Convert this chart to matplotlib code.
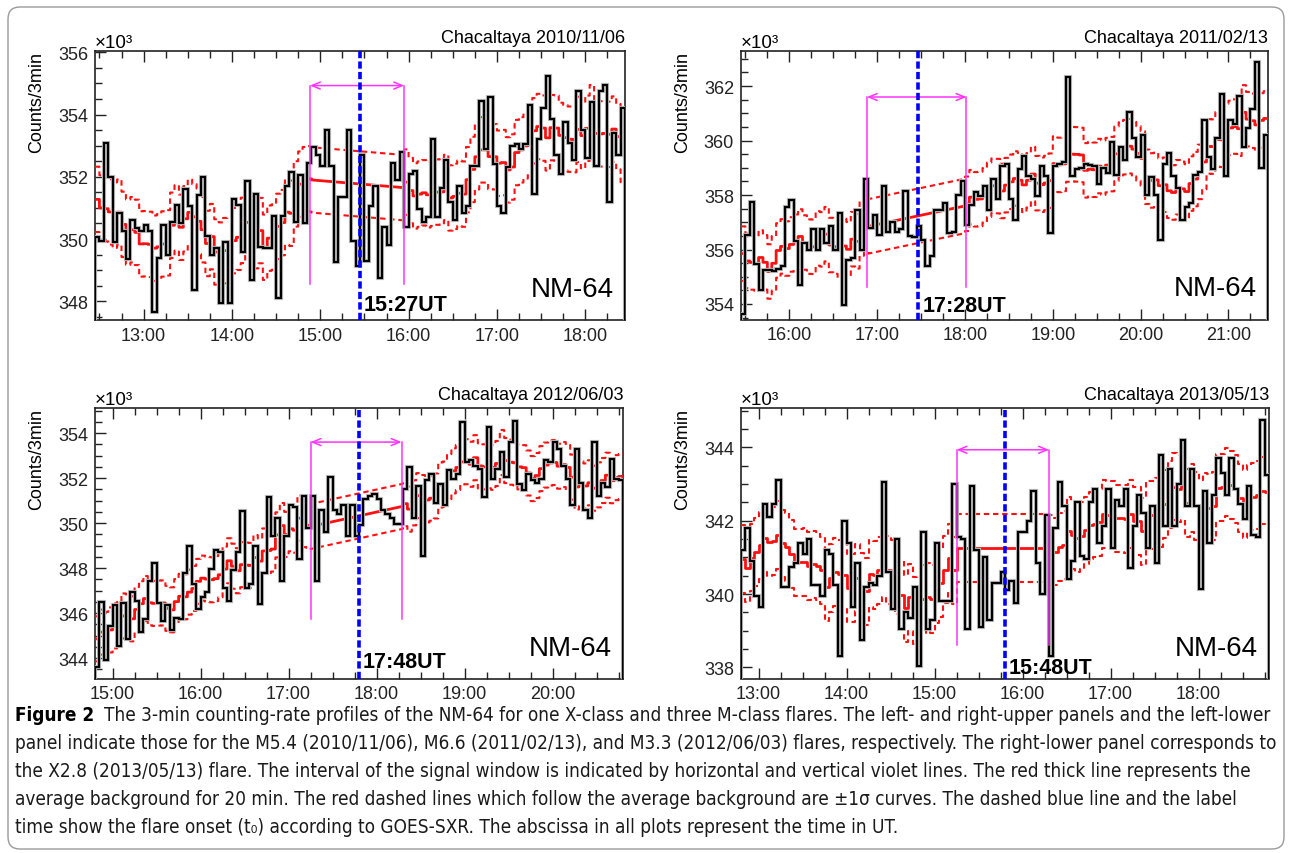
import numpy as np
import pandas as pd
import matplotlib
matplotlib.use("Agg")
import matplotlib.pyplot as plt
import matplotlib.patheffects as pe
from matplotlib import font_manager as fm
from matplotlib.patches import FancyBboxPatch
from matplotlib.transforms import IdentityTransform
from matplotlib.ticker import MultipleLocator, FuncFormatter

# ---- data (counts per 3 min, in units of 10^3) ----
DATES = ["2010/11/06", "2011/02/13", "2012/06/03", "2013/05/13"]
STARTS = ["12:27", "15:27", "14:48", "12:48"]
ONSETS = ["15:27", "17:28", "17:48", "15:48"]
WIN_START = ["14:53", "16:53", "17:15", "15:15"]
WIN_END = ["15:57", "18:01", "18:17", "16:18"]
WIN_BG = [(351.9, 351.65), (356.85, 357.6), (349.85, 350.75), (341.25, 341.25)]
SIGMA = [1.05, 1.0, 1.0, 0.92]
ARROW_Y = [354.93, 361.6, 353.6, 343.93]
WIN_LOW = [348.56, 354.64, 345.75, 338.6]

COUNTS_2010 = [
    350.05, 349.95, 353.1, 352.0, 349.9, 350.85, 350.25, 349.35, 350.6, 350.35,
    350.25, 350.45, 350.25, 347.65, 349.4, 350.45, 349.5, 350.55, 351.1, 350.5,
    351.6, 351.05, 348.35, 351.4, 352.0, 350.1, 349.5, 349.7, 347.95, 349.9,
    347.95, 351.3, 351.1, 349.6, 351.85, 348.7, 351.45, 349.75, 349.7, 349.7,
    350.75, 348.1, 350.75, 351.7, 352.15, 350.55, 352.05, 350.5, 352.45, 352.95,
    352.7, 352.35, 353.5, 352.35, 349.25, 351.35, 351.35, 353.5, 349.95, 349.15,
    352.7, 349.3, 351.05, 351.7, 348.75, 350.4, 349.8, 352.45, 351.9, 352.8,
    350.4, 352.1, 352.2, 350.95, 350.55, 350.7, 353.2, 350.7, 351.65, 352.55,
    351.2, 350.6, 351.7, 350.85, 351.05, 352.35, 352.35, 354.45, 352.9, 354.55,
    352.4, 351.05, 350.85, 352.3, 353.0, 353.05, 352.9, 353.05, 354.3, 351.45,
    353.2, 354.2, 355.25, 353.85, 352.7, 352.1, 353.75, 353.1, 352.55, 354.75,
    353.5, 352.6, 354.4, 352.35, 354.75, 354.95, 351.2, 353.4, 352.7, 354.2,
]
COUNTS_2011 = [
    353.65, 356.55, 357.75, 355.45, 354.5, 355.25, 355.25, 355.2, 355.3, 355.4,
    357.55, 357.8, 356.3, 354.7, 356.25, 356.0, 356.75, 356.0, 356.75, 356.25,
    356.85, 356.0, 357.35, 353.95, 355.6, 355.7, 357.45, 356.0, 358.6, 356.8,
    357.25, 356.55, 358.35, 356.65, 357.0, 356.65, 356.75, 358.15, 356.5, 356.45,
    356.85, 356.35, 355.4, 355.75, 357.45, 357.45, 357.7, 356.6, 356.65, 358.0,
    358.5, 356.9, 357.65, 358.1, 357.95, 358.35, 357.45, 358.6, 357.85, 359.05,
    359.15, 357.85, 357.1, 358.95, 359.45, 358.7, 358.6, 357.95, 359.05, 358.7,
    356.6, 359.05, 359.15, 359.2, 362.35, 358.7, 358.95, 359.0, 359.15, 359.1,
    359.05, 358.4, 359.0, 358.8, 359.95, 358.75, 359.75, 359.3, 361.05, 360.1,
    359.4, 360.2, 358.0, 358.65, 358.0, 356.35, 359.15, 359.55, 358.7, 358.25,
    357.1, 357.55, 357.7, 358.75, 358.85, 360.75, 359.4, 358.95, 360.1, 361.7,
    358.7, 360.75, 360.6, 361.65, 359.75, 360.45, 361.15, 362.9, 359.0, 360.2,
]
COUNTS_2012 = [
    343.6, 346.5, 343.9, 345.45, 346.35, 344.55, 346.45, 344.85, 346.95, 346.55,
    345.15, 345.75, 347.45, 348.25, 346.45, 345.65, 346.35, 345.25, 345.8, 345.75,
    347.8, 349.0, 347.3, 346.2, 346.7, 346.95, 347.95, 348.8, 348.7, 347.1,
    346.55, 347.9, 348.7, 350.55, 347.1, 347.3, 349.0, 346.4, 347.8, 351.15,
    349.45, 350.25, 347.45, 349.45, 350.8, 350.7, 348.4, 351.2, 349.8, 351.2,
    347.45, 350.6, 349.6, 352.05, 350.6, 350.4, 350.8, 349.45, 350.8, 349.45,
    349.9, 351.05, 351.2, 351.3, 351.05, 350.6, 350.4, 350.25, 349.95, 349.95,
    351.5, 352.5, 350.25, 351.65, 348.55, 351.9, 352.2, 350.9, 351.75, 350.8,
    352.35, 351.95, 352.2, 354.5, 352.7, 352.8, 352.55, 352.4, 351.15, 354.25,
    351.95, 352.4, 353.15, 352.05, 353.6, 354.55, 351.75, 351.45, 352.2, 351.9,
    351.8, 351.95, 352.8, 352.7, 353.6, 353.3, 352.55, 351.95, 350.8, 353.3,
    351.8, 350.6, 350.25, 353.6, 351.2, 351.8, 351.6, 352.85, 351.95, 351.9,
]
COUNTS_2013 = [
    341.2, 341.8, 340.9, 339.95, 339.65, 342.45, 342.1, 342.45, 343.1, 340.2,
    340.2, 340.75, 340.85, 341.4, 341.1, 341.5, 340.25, 340.25, 339.95, 341.2,
    341.1, 340.25, 338.3, 342.0, 341.4, 339.65, 340.85, 338.75, 340.2, 340.3,
    340.25, 340.5, 343.05, 340.6, 339.6, 341.5, 339.05, 339.5, 339.35, 340.2,
    338.05, 341.7, 339.05, 339.3, 341.4, 339.8, 339.8, 339.8, 343.0, 341.55,
    341.5, 339.05, 342.95, 341.2, 339.1, 341.0, 339.3, 340.3, 340.3, 340.6,
    340.1, 340.35, 339.75, 341.7, 341.7, 342.0, 342.8, 340.85, 340.0, 342.15,
    338.3, 341.8, 343.05, 342.4, 340.4, 340.9, 342.5, 341.05, 340.95, 342.5,
    342.85, 341.4, 341.85, 342.85, 341.25, 342.55, 342.4, 342.85, 340.7, 341.85,
    342.7, 342.2, 341.25, 342.4, 340.85, 343.8, 341.85, 343.4, 341.85, 343.0,
    344.2, 342.4, 343.4, 342.4, 340.15, 342.8, 341.4, 342.7, 343.7, 343.3,
    342.7, 343.7, 342.85, 342.45, 342.05, 342.95, 341.6, 341.55, 344.75, 343.25,
]
COUNTS = [COUNTS_2010, COUNTS_2011, COUNTS_2012, COUNTS_2013]

# ---- layout ----
W, H = 1291, 854
YLIMS = [(347.4, 356.05), (353.43, 363.3), (343.1, 355.1), (337.7, 345.06)]
AX_PX = [(95, 51.7, 625, 321), (741, 51.7, 1268, 320.5),
         (95, 409.3, 623, 679.5), (741, 409.3, 1269, 679.5)]
ONSET_DY = [10, 9, 11, 5]
BIN_H = 3 / 60.0


def hours(s):
    h, m = s.split(":")
    return int(h) + int(m) / 60.0


fonts = fm.fontManager.ttflist
names = {f.name for f in fonts}
PLOT_FONT = "Liberation Sans" if "Liberation Sans" in names else "DejaVu Sans"
CAP_STRETCH = "normal"
if "Liberation Sans Narrow" in names:
    CAP_FONT = "Liberation Sans Narrow"
elif any(f.name == "DejaVu Sans" and f.stretch == "condensed" for f in fonts):
    CAP_FONT, CAP_STRETCH = "DejaVu Sans", "condensed"
else:
    CAP_FONT = PLOT_FONT
plt.rcParams["font.family"] = [PLOT_FONT, "DejaVu Sans"]

fig = plt.figure(figsize=(W / 100, H / 100), dpi=100)


def background_curve(edges, bg, w0, w1, win_vals, shift):
    xs, ys = [], []
    for i in range(w0):
        xs += [edges[i], edges[i + 1]]
        ys += [bg[i] + shift, bg[i] + shift]
    xs += [edges[w0], edges[w1]]
    ys += [win_vals[0] + shift, win_vals[1] + shift]
    for i in range(w1, len(bg)):
        xs += [edges[i], edges[i + 1]]
        ys += [bg[i] + shift, bg[i] + shift]
    return xs, ys


for k in range(4):
    l, t, r, b = AX_PX[k]
    ax = fig.add_axes([l / W, 1 - b / H, (r - l) / W, (b - t) / H])
    counts = np.array(COUNTS[k])
    start = hours(STARTS[k])
    edges = start + np.arange(len(counts) + 1) * BIN_H
    t0 = hours(ONSETS[k])
    ws, we = hours(WIN_START[k]), hours(WIN_END[k])
    w0 = int(round((ws - start) / BIN_H))
    w1 = int(round((we - start) / BIN_H))

    # 20-min running average background and +-1 sigma curves
    bg = pd.Series(counts).rolling(7, center=True, min_periods=1).mean().values
    for shift, ls, lw in [(0, "-", 2.0), (SIGMA[k], (0, (2.6, 1.8)), 1.5),
                          (-SIGMA[k], (0, (2.6, 1.8)), 1.5)]:
        xs, ys = background_curve(edges, bg, w0, w1, WIN_BG[k], shift)
        ax.plot(xs, ys, color="#ff1010", lw=lw, ls=ls, zorder=3)

    st = ax.stairs(counts, edges, color="black", lw=1.6, zorder=4)
    st.set_path_effects([pe.Stroke(linewidth=3.0, foreground="#c0c0c0"), pe.Normal()])

    # signal window
    mag = "#ff33ff"
    ax.plot([ws, ws], [WIN_LOW[k], ARROW_Y[k]], color=mag, lw=1.1, zorder=5)
    ax.plot([we, we], [WIN_LOW[k], ARROW_Y[k]], color=mag, lw=1.1, zorder=5)
    ax.annotate("", xy=(we, ARROW_Y[k]), xytext=(ws, ARROW_Y[k]),
                arrowprops=dict(arrowstyle="<->,head_length=0.6,head_width=0.25",
                                color=mag, lw=1.1, shrinkA=0, shrinkB=0), zorder=5)

    # onset
    ax.axvline(t0, color="#0000ff", lw=2.6, ls=(0, (2.0, 0.9)), zorder=6)
    ax.annotate(ONSETS[k] + "UT", xy=(t0, 0), xycoords=ax.get_xaxis_transform(),
                xytext=(4, ONSET_DY[k]), textcoords="offset pixels", ha="left",
                va="baseline", fontsize=15.5, fontweight="bold", zorder=7)

    ax.annotate("NM-64", xy=(1, 0), xycoords="axes fraction", xytext=(-11, 24),
                textcoords="offset pixels", ha="right", va="baseline", fontsize=20)
    ax.annotate("Chacaltaya " + DATES[k], xy=(1, 1), xycoords="axes fraction",
                xytext=(0, 9), textcoords="offset pixels", ha="right", va="baseline",
                fontsize=13)
    ax.annotate("\u00d710\u00b3", xy=(0, 1), xycoords="axes fraction", xytext=(0, 4),
                textcoords="offset pixels", ha="left", va="baseline", fontsize=13.5)
    ax.annotate("Counts/3min", xy=(0, 1), xycoords="axes fraction", xytext=(-58, 0),
                textcoords="offset pixels", ha="center", va="top", rotation=90,
                fontsize=13)

    ax.set_xlim(edges[0], edges[-1])
    ax.set_ylim(*YLIMS[k])
    ax.xaxis.set_major_locator(MultipleLocator(1))
    ax.xaxis.set_minor_locator(MultipleLocator(0.25))
    ax.xaxis.set_major_formatter(FuncFormatter(lambda v, p: "%d:00" % round(v)))
    ax.yaxis.set_major_locator(MultipleLocator(2))
    ax.yaxis.set_minor_locator(MultipleLocator(0.5))
    ax.yaxis.set_major_formatter(FuncFormatter(lambda v, p: "%d" % round(v)))
    ax.tick_params(which="both", direction="in", top=True, right=False,
                   width=1.0, labelsize=13, colors="#222222")
    ax.tick_params(which="major", length=8, pad=5)
    ax.tick_params(which="minor", length=5)
    for sp in ax.spines.values():
        sp.set_linewidth(1.2)
        sp.set_color("#222222")

# ---- caption ----
CAPTION = [
    "The 3-min counting-rate profiles of the NM-64 for one X-class and three M-class flares. The left- and right-upper panels and the left-lower",
    "panel indicate those for the M5.4 (2010/11/06), M6.6 (2011/02/13), and M3.3 (2012/06/03) flares, respectively. The right-lower panel corresponds to",
    "the X2.8 (2013/05/13) flare. The interval of the signal window is indicated by horizontal and vertical violet lines. The red thick line represents the",
    "average background for 20 min. The red dashed lines which follow the average background are \u00b11\u03c3 curves. The dashed blue line and the label",
    "time show the flare onset (t\u2080) according to GOES-SXR. The abscissa in all plots represent the time in UT.",
]
cap_fam = [CAP_FONT, "DejaVu Sans"]
fig.canvas.draw()
rend = fig.canvas.get_renderer()
probe = fig.text(0, 0, CAPTION[1], fontsize=12, family=cap_fam, fontstretch=CAP_STRETCH)
w_probe = probe.get_window_extent(rend).width
probe.remove()
cap_size = 12 * (1275 - 15) / w_probe

lab = fig.text(15 / W, 1 - 721 / H, "Figure 2", fontsize=cap_size, family=cap_fam,
               fontstretch=CAP_STRETCH, fontweight="bold", va="baseline")
w_lab = lab.get_window_extent(rend).width
for i, line in enumerate(CAPTION):
    x0 = 15 + (w_lab + 10 if i == 0 else 0)
    fig.text(x0 / W, 1 - (721 + 28 * i) / H, line, fontsize=cap_size,
             family=cap_fam, fontstretch=CAP_STRETCH, va="baseline", color="#1a1a1a")

border = FancyBboxPatch((8, 4), 1276, 842, boxstyle="round,pad=0,rounding_size=12",
                        transform=IdentityTransform(), fill=False, ec="#9a9a9a", lw=1.0)
fig.patches.append(border)

fig.savefig("out.png", dpi=100)
